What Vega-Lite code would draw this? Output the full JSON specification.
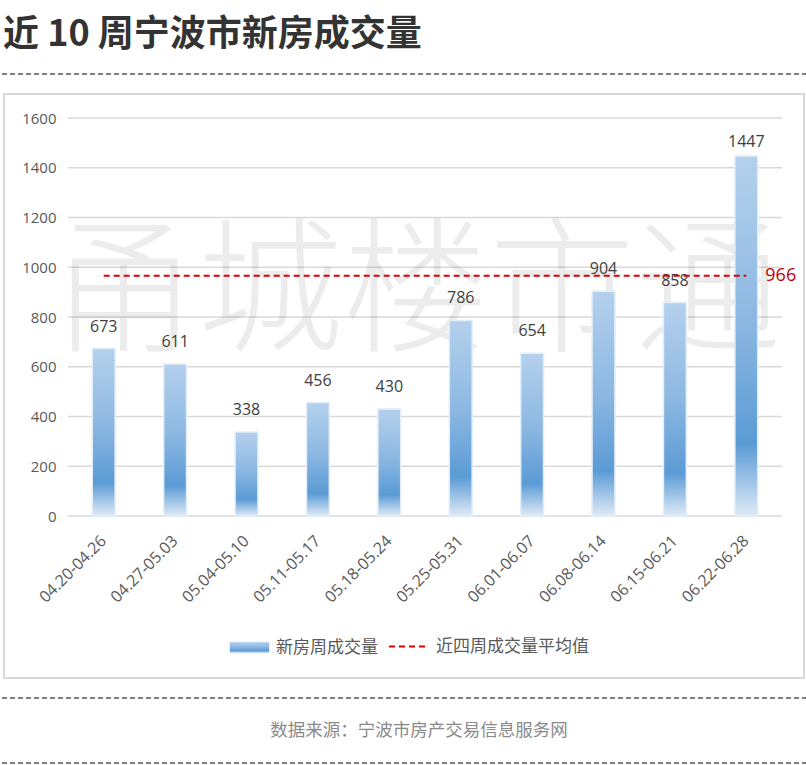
{
  "$schema": "https://vega.github.io/schema/vega-lite/v6.json",
  "background": "white",
  "padding": {"left": 0, "right": 0, "top": 17, "bottom": 0},
  "title": {
    "text": "近 10 周宁波市新房成交量",
    "anchor": "start",
    "font": "Noto Sans CJK SC",
    "fontSize": 36,
    "fontWeight": "bold",
    "color": "#333333",
    "offset": 19,
    "dx": 3
  },
  "bounds": "flush",
  "spacing": 20,
  "center": true,
  "config": {"view": {"stroke": null}},
  "vconcat": [
    {
      "width": 806,
      "height": 1,
      "data": {"values": [{"y": 0}]},
      "mark": {"type": "rule", "color": "#7f7f7f", "strokeDash": [5, 3], "strokeWidth": 2},
      "encoding": {
        "y": {"field": "y", "type": "quantitative", "scale": {"domain": [0, 1]}, "axis": null}
      }
    },
    {
      "width": 800,
      "height": 584,
      "view": {"stroke": "#d9d9d9", "strokeWidth": 2},
      "layer": [
        {
          "data": {"values": [{"g": 0}, {"g": 200}, {"g": 400}, {"g": 600}, {"g": 800}, {"g": 1000}, {"g": 1200}, {"g": 1400}, {"g": 1600}]},
          "mark": {"type": "rule", "color": "#d9d9d9", "strokeWidth": 1.5},
          "encoding": {
            "x": {"datum": 0, "type": "quantitative", "scale": {"domain": [0, 1], "range": [64, 778]}, "axis": null},
            "x2": {"datum": 1},
            "y": {
              "field": "g",
              "type": "quantitative",
              "scale": {"domain": [0, 1600], "range": [422, 24], "nice": false},
              "axis": {
                "orient": "left",
                "offset": -64,
                "title": null,
                "domain": false,
                "ticks": false,
                "tickSize": 0,
                "grid": false,
                "format": "d",
                "values": [0, 200, 400, 600, 800, 1000, 1200, 1400, 1600],
                "labelPadding": 12,
                "labelFont": "Open Sans",
                "labelFontSize": 15,
                "labelColor": "#595959"
              }
            }
          }
        },
        {
          "data": {"values": [{"t": "甬城楼市通"}]},
          "mark": {"type": "text", "font": "Noto Sans CJK SC", "fontSize": 146, "fontWeight": 300, "color": "#000000", "opacity": 0.07, "dy": -90, "dx": 12},
          "encoding": {"text": {"field": "t"}}
        },
        {
          "data": {
            "values": [
              {"week": "04.20-04.26", "v": 673, "avg": 966},
              {"week": "04.27-05.03", "v": 611, "avg": 966},
              {"week": "05.04-05.10", "v": 338, "avg": 966},
              {"week": "05.11-05.17", "v": 456, "avg": 966},
              {"week": "05.18-05.24", "v": 430, "avg": 966},
              {"week": "05.25-05.31", "v": 786, "avg": 966},
              {"week": "06.01-06.07", "v": 654, "avg": 966},
              {"week": "06.08-06.14", "v": 904, "avg": 966},
              {"week": "06.15-06.21", "v": 858, "avg": 966},
              {"week": "06.22-06.28", "v": 1447, "avg": 966}
            ]
          },
          "encoding": {
            "x": {
              "field": "week",
              "type": "nominal",
              "sort": null,
              "scale": {"range": [64, 778], "paddingInner": 0.68, "paddingOuter": 0.34},
              "axis": {
                "orient": "bottom",
                "offset": -162,
                "title": null,
                "domain": false,
                "ticks": false,
                "tickSize": 0,
                "grid": false,
                "labelAngle": -45,
                "labelAlign": "right",
                "labelBaseline": "middle",
                "labelPadding": 22,
                "labelOverlap": false,
                "labelFont": "Open Sans",
                "labelFontSize": 16,
                "labelColor": "#595959"
              }
            }
          },
          "layer": [
            {
              "mark": {
                "type": "bar",
                "strokeWidth": 1.5,
                "fill": {
                  "gradient": "linear",
                  "x1": 0, "y1": 0, "x2": 0, "y2": 1,
                  "stops": [
                    {"offset": 0, "color": "#b4d1ed"},
                    {"offset": 0.45, "color": "#8db8e2"},
                    {"offset": 0.8, "color": "#5b9bd5"},
                    {"offset": 1, "color": "#dfeaf6"}
                  ]
                }
              },
              "encoding": {
                "y": {"field": "v", "type": "quantitative"},
                "stroke": {
                  "datum": "新房周成交量",
                  "type": "nominal",
                  "scale": {"range": ["#e4eef8"]},
                  "legend": {
                    "orient": "none",
                    "legendX": 228,
                    "legendY": 554,
                    "title": null,
                    "symbolSize": 1600,
                    "symbolType": "M-1,-0.28L1,-0.28L1,0.28L-1,0.28Z",
                    "symbolStrokeWidth": 1,
                    "labelFont": "Noto Sans CJK SC",
                    "labelFontSize": 17,
                    "labelColor": "#595959",
                    "labelOffset": 6
                  }
                }
              }
            },
            {
              "transform": [{"filter": "datum.v < 1400"}],
              "mark": {"type": "text", "dy": -22, "baseline": "middle", "font": "Open Sans", "fontSize": 16, "color": "#404040"},
              "encoding": {
                "y": {"field": "v", "type": "quantitative"},
                "text": {"field": "v", "type": "quantitative"}
              }
            },
            {
              "transform": [{"filter": "datum.v >= 1400"}],
              "mark": {"type": "text", "dy": -14, "baseline": "middle", "font": "Open Sans", "fontSize": 16, "color": "#404040"},
              "encoding": {
                "y": {"field": "v", "type": "quantitative"},
                "text": {"field": "v", "type": "quantitative"}
              }
            },
            {
              "mark": {"type": "line", "strokeWidth": 2, "color": "#e00000"},
              "encoding": {
                "y": {"field": "avg", "type": "quantitative"},
                "strokeDash": {
                  "datum": "近四周成交量平均值",
                  "type": "nominal",
                  "scale": {"range": [[6, 4]]},
                  "legend": {
                    "orient": "none",
                    "legendX": 387,
                    "legendY": 554,
                    "title": null,
                    "symbolType": "stroke",
                    "symbolSize": 1369,
                    "symbolStrokeColor": "#e00000",
                    "symbolStrokeWidth": 2,
                    "labelFont": "Noto Sans CJK SC",
                    "labelFontSize": 17,
                    "labelColor": "#595959",
                    "labelOffset": 9
                  }
                }
              }
            },
            {
              "transform": [{"filter": "datum.week == '06.22-06.28'"}],
              "mark": {"type": "text", "dx": 19, "align": "left", "baseline": "middle", "font": "Open Sans", "fontSize": 18, "color": "#c00000"},
              "encoding": {
                "y": {"field": "avg", "type": "quantitative"},
                "text": {"field": "avg", "type": "quantitative"}
              }
            }
          ]
        }
      ],
      "resolve": {"scale": {"x": "independent"}, "axis": {"x": "independent"}}
    },
    {
      "width": 806,
      "height": 65,
      "layer": [
        {
          "data": {"values": [{"y": 0}, {"y": 1}]},
          "mark": {"type": "rule", "color": "#7f7f7f", "strokeDash": [5, 3], "strokeWidth": 2},
          "encoding": {
            "y": {"field": "y", "type": "quantitative", "scale": {"domain": [0, 1]}, "axis": null}
          }
        },
        {
          "data": {"values": [{"y": 0.5, "t": "数据来源：宁波市房产交易信息服务网"}]},
          "mark": {"type": "text", "font": "Noto Sans CJK SC", "fontSize": 17.5, "color": "#8a8a8a", "dx": 15, "baseline": "middle"},
          "encoding": {
            "y": {"field": "y", "type": "quantitative"},
            "text": {"field": "t"}
          }
        }
      ]
    }
  ]
}
